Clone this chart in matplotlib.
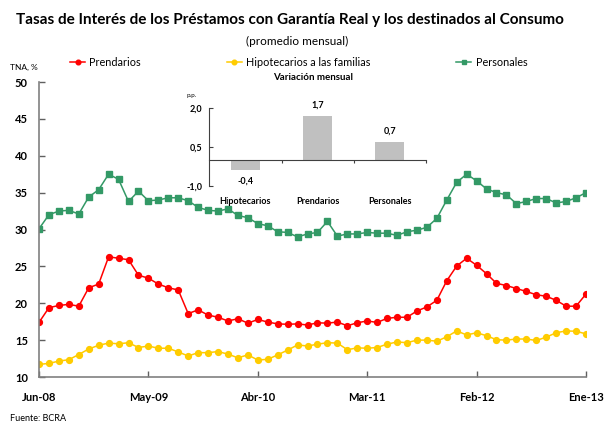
import matplotlib
matplotlib.use("Agg")
import matplotlib.pyplot as plt
import numpy as np

plt.rcParams['font.family'] = ['Lato', 'DejaVu Sans']

# ---------------- data ----------------
tick_labels = ["Jun-08", "May-09", "Abr-10", "Mar-11", "Feb-12", "Ene-13"]
tick_months = [0, 11, 22, 33, 44, 55]

prendarios = [17.4, 19.4, 19.7, 19.85, 19.6, 22.1, 22.6, 26.3, 26.1, 25.9,
              23.8, 23.4, 22.6, 22.1, 21.8, 18.6, 19.1, 18.4, 18.1, 17.6,
              17.9, 17.3, 17.8, 17.45, 17.2, 17.15, 17.2, 17.05, 17.35, 17.3,
              17.45, 16.95, 17.35, 17.6, 17.4, 17.95, 18.1, 18.1, 18.95, 19.5,
              20.4, 23.05, 25.05, 26.1, 25.15, 24.0, 22.7, 22.4, 22.0, 21.6,
              21.15, 20.95, 20.4, 19.6, 19.6, 21.25]

hipotecarios = [11.7, 11.85, 12.15, 12.35, 13.05, 13.8, 14.3, 14.6, 14.5, 14.65,
                14.0, 14.2, 13.9, 13.9, 13.4, 12.85, 13.3, 13.3, 13.45, 13.1,
                12.6, 13.0, 12.3, 12.4, 13.0, 13.65, 14.35, 14.2, 14.45, 14.65,
                14.6, 13.7, 13.95, 13.9, 14.0, 14.45, 14.75, 14.65, 15.0, 15.0,
                14.85, 15.45, 16.25, 15.7, 16.0, 15.6, 15.05, 15.0, 15.15, 15.15,
                14.95, 15.4, 16.0, 16.25, 16.2, 15.85]

personales = [30.1, 32.0, 32.5, 32.6, 32.1, 34.4, 35.4, 37.5, 36.8, 33.8,
              35.2, 33.9, 34.0, 34.3, 34.3, 33.9, 33.0, 32.6, 32.5, 32.8,
              31.9, 31.6, 30.8, 30.5, 29.7, 29.6, 29.0, 29.4, 29.6, 31.1,
              29.1, 29.4, 29.4, 29.6, 29.5, 29.5, 29.2, 29.7, 29.9, 30.3,
              31.5, 34.0, 36.4, 37.5, 36.6, 35.5, 35.0, 34.7, 33.5, 33.8,
              34.2, 34.2, 33.6, 33.8, 34.3, 35.0]

var_categories = ["Hipotecarios", "Prendarios", "Personales"]
var_values = [-0.4, 1.7, 0.7]

# ---------------- figure ----------------
W, H = 604, 423
fig = plt.figure(figsize=(W / 100, H / 100), dpi=100)

def fx(px):
    return px / W

def fy(py):
    return 1 - py / H

# main axes
left, right, top, bottom = 39, 586, 82, 377
ax = fig.add_axes([fx(left), fy(bottom), (right - left) / W, (bottom - top) / H])
x = np.arange(len(prendarios))

RED, YEL, GRN = '#ff0000', '#ffcc00', '#339966'
ax.plot(x, prendarios, color=RED, lw=1.1, marker='o', ms=4.2, mec=RED, mfc=RED,
        label='Prendarios')
ax.plot(x, hipotecarios, color=YEL, lw=1.1, marker='o', ms=4.2, mec=YEL, mfc=YEL,
        label='Hipotecarios a las familias')
ax.plot(x, personales, color=GRN, lw=1.1, marker='s', ms=3.8, mec=GRN, mfc=GRN,
        label='Personales')

ax.set_xlim(0, len(prendarios) - 1)
ax.set_ylim(10, 50)
ax.set_yticks(np.arange(10, 51, 5))
ax.set_xticks(tick_months)
ax.set_xticklabels(tick_labels)
for s in ['top', 'right']:
    ax.spines[s].set_visible(False)
for s in ['left', 'bottom']:
    ax.spines[s].set_color('#808080')
    ax.spines[s].set_linewidth(1.2)
ax.tick_params(axis='both', direction='in', length=4, width=1, color='#606060',
               labelsize=8)
ax.tick_params(axis='y', pad=8)
ax.tick_params(axis='x', pad=11)
for t in ax.get_xticklabels() + ax.get_yticklabels():
    t.set_fontweight('bold')
ax.patch.set_alpha(0)

# titles
fig.text(fx(290), fy(20), "Tasas de Interés de los Préstamos con Garantía Real y los destinados al Consumo",
         ha='center', va='center', fontsize=11, fontweight='bold')
fig.text(fx(297), fy(41), "(promedio mensual)", ha='center', va='center', fontsize=8.5)
fig.text(fx(10), fy(67), "TNA, %", ha='left', va='center', fontsize=6)
fig.text(fx(10), fy(418), "Fuente: BCRA", ha='left', va='center', fontsize=6.5)

# legend
handles, labels = ax.get_legend_handles_labels()
leg = fig.legend(handles, labels, loc='center left', bbox_to_anchor=(fx(70), fy(62.5)),
                 ncol=3, frameon=False, fontsize=7.8, borderpad=0, borderaxespad=0,
                 handlelength=1.4, handletextpad=0.4, columnspacing=7.9,
                 markerscale=0.8)

# inset
il, ir, it, ib = 209.3, 426, 107.7, 186
ax2 = fig.add_axes([fx(il), fy(ib), (ir - il) / W, (ib - it) / H])
pos = np.arange(len(var_values)) + 0.5
ax2.bar(pos, var_values, width=0.4, color='#c0c0c0', zorder=2)
ax2.set_xlim(0, len(var_values))
ax2.set_ylim(-1, 2)
ax2.set_yticks([-1.0, 0.5, 2.0])
ax2.set_yticklabels([f"{v:.1f}".replace('.', ',') for v in [-1.0, 0.5, 2.0]])
for s in ['top', 'right']:
    ax2.spines[s].set_visible(False)
ax2.spines['bottom'].set_position(('data', 0))
ax2.spines['left'].set_linewidth(0.8)
ax2.spines['bottom'].set_linewidth(0.8)
ax2.spines['left'].set_color('#404040')
ax2.spines['bottom'].set_color('#404040')
ax2.set_xticks(np.arange(1, len(var_values) + 1))
ax2.set_xticklabels([])
ax2.tick_params(axis='x', direction='out', length=2.5, width=0.8, color='#404040')
ax2.tick_params(axis='y', direction='in', length=3, width=0.8, color='#404040',
                labelsize=6.5, pad=5)
for t in ax2.get_yticklabels():
    t.set_fontweight('bold')
ax2.patch.set_alpha(0)

for p, v, c in zip(pos, var_values, var_categories):
    ax2.annotate(f"{v:.1f}".replace('.', ','), (p, v),
                 xytext=(0, 7.5 if v >= 0 else -7.5), textcoords='offset points',
                 ha='center', va='center', fontsize=6.5, fontweight='bold')
    ax2.text(p, -0.2, c, transform=ax2.get_xaxis_transform(), ha='center', va='center',
             fontsize=6.5, fontweight='bold')

ax2.text(0.48, 1.39, "Variación mensual", transform=ax2.transAxes, ha='center', va='center',
         fontsize=7, fontweight='bold')
ax2.text(-0.08, 1.16, "p.p.", transform=ax2.transAxes, ha='center', va='center',
         fontsize=4.5)

fig.savefig("out.png", dpi=100)
